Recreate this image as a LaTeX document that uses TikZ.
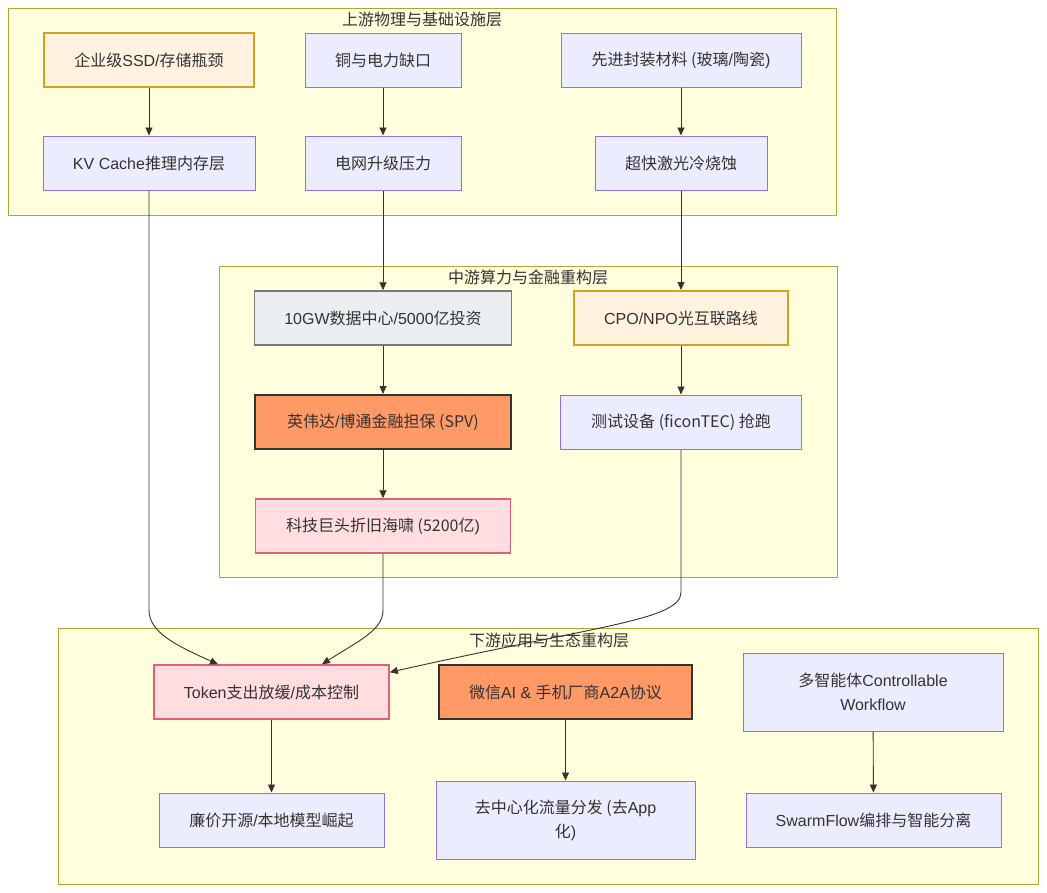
\documentclass[tikz,border=0pt]{standalone}
\usepackage{fontspec}
\usepackage{tikz}
\usetikzlibrary{arrows.meta}
\setmainfont{Liberation Sans}
\newfontfamily\cjkfont{Noto Sans CJK SC}
\newcommand\latfont{\fontspec{Liberation Sans}}
% switch to the CJK font for ideographs
\XeTeXinterchartokenstate=1
\count255="4E00
\loop
  \XeTeXcharclass\count255=7
  \ifnum\count255<"9FFF \advance\count255 by 1
\repeat
\XeTeXinterchartoks 0 7 = {\cjkfont}
\XeTeXinterchartoks 4095 7 = {\cjkfont}
\XeTeXinterchartoks 7 0 = {\rmfamily}

\definecolor{clfill}{HTML}{FFFFDE}
\definecolor{cldraw}{HTML}{AAAA33}
\definecolor{dffill}{HTML}{ECECFF}
\definecolor{dfdraw}{HTML}{9370DB}
\definecolor{orfill}{HTML}{FFF3E0}
\definecolor{ordraw}{HTML}{D4A020}
\definecolor{gyfill}{HTML}{ECEFF1}
\definecolor{gydraw}{HTML}{7A7A7A}
\definecolor{hotfill}{HTML}{FF9966}
\definecolor{pkfill}{HTML}{FFDDE1}
\definecolor{pkdraw}{HTML}{E0607A}
\definecolor{edge}{HTML}{333333}

\begin{document}
\begin{tikzpicture}[
        x=1pt, y=-1pt,
        font=\fontsize{16}{24}\selectfont,
        layer/.style={draw=cldraw, fill=clfill, line width=1pt},
        title/.style={anchor=center, text=edge},
        box/.style={draw=dfdraw, fill=dffill, line width=1pt, rectangle,
                    align=center, minimum height=54pt, inner sep=0pt, text=edge},
        warnbox/.style={box, draw=ordraw, fill=orfill, line width=2pt},
        plainbox/.style={box, draw=gydraw, fill=gyfill, line width=1.5pt},
        hotbox/.style={box, draw=edge, fill=hotfill, line width=2pt},
        pinkbox/.style={box, draw=pkdraw, fill=pkfill, line width=1.5pt},
        arrow/.style={-{Triangle[length=8pt,width=7pt]}, draw=edge, line width=0.9pt}
    ]
        \useasboundingbox (0,0) rectangle (1047,892);

        % layers
        \draw[layer] (8,8) rectangle (836,215);
        \node[title] (t1) at (422,19) {上游物理与基础设施层};
        \draw[layer] (219,266) rectangle (837,577);
        \node[title] (t2) at (528,277) {中游算力与金融重构层};
        \draw[layer] (58,628) rectangle (1038,884);
        \node[title] (t3) at (549,640) {下游应用与生态重构层};

        % upstream
        \node[warnbox, minimum width=210pt] (ssd) at (149,60) {企业级SSD/存储瓶颈};
        \node[box, minimum width=156pt] (copper) at (383,60) {铜与电力缺口};
        \node[box, minimum width=240pt] (pkg) at (681,60) {先进封装材料 (玻璃/陶瓷)};
        \node[box, minimum width=212pt] (kv) at (149,163) {KV Cache推理内存层};
        \node[box, minimum width=156pt] (grid) at (383,163) {电网升级压力};
        \node[box, minimum width=172pt] (laser) at (681,163) {超快激光冷烧蚀};

        % midstream
        \node[plainbox, minimum width=257pt] (dc) at (383,318) {10GW数据中心/5000亿投资};
        \node[warnbox, minimum width=214pt] (cpo) at (681,318) {CPO/NPO光互联路线};
        \node[hotbox, minimum width=256pt] (spv) at (383,422) {英伟达/博通金融担保 (SPV)};
        \node[box, minimum width=241pt] (tester) at (681,422) {测试设备 (ficonTEC) 抢跑};
        \node[pinkbox, minimum width=255pt] (depr) at (383,526) {科技巨头折旧海啸 (5200亿)};

        % downstream
        \node[pinkbox, minimum width=235pt] (token) at (271.5,692) {Token支出放缓/成本控制};
        \node[hotbox, minimum width=253pt] (wechat) at (565.5,692) {微信AI \& 手机厂商A2A协议};
        \node[box, minimum width=260pt, minimum height=78pt] (agents) at (873,692)
            {多智能体Controllable\\Workflow};
        \node[box, minimum width=225pt] (cheap) at (271.5,820) {廉价开源/本地模型崛起};
        \node[box, minimum width=259pt, minimum height=78pt] (decent) at (565.5,820)
            {去中心化流量分发 (去App\\化)};
        \node[box, minimum width=255pt] (swarm) at (873.5,820) {SwarmFlow编排与智能分离};

        \draw[arrow] (ssd) -- (kv);
        \draw[arrow] (copper) -- (grid);
        \draw[arrow] (pkg) -- (laser);
        \draw[arrow] (grid) -- (dc);
        \draw[arrow] (laser) -- (cpo);
        \draw[arrow] (dc) -- (spv);
        \draw[arrow] (spv) -- (depr);
        \draw[arrow] (cpo) -- (tester);
        \draw[arrow] (kv.south) -- (149,610)
            .. controls (149,632) and (175,645) .. ([xshift=-53.5pt]token.north);
        \draw[arrow] (depr.south) -- (383,610)
            .. controls (383,630) and (360,640) .. ([xshift=50.5pt]token.north);
        \draw[arrow] (tester.south) -- (681,592)
            .. controls (681,620) and (600,625) .. ([yshift=-8pt]token.north east);
        \draw[arrow] (token) -- (cheap);
        \draw[arrow] (wechat) -- (decent);
        \draw[arrow] (agents) -- (swarm);
    \end{tikzpicture}
\end{document}
